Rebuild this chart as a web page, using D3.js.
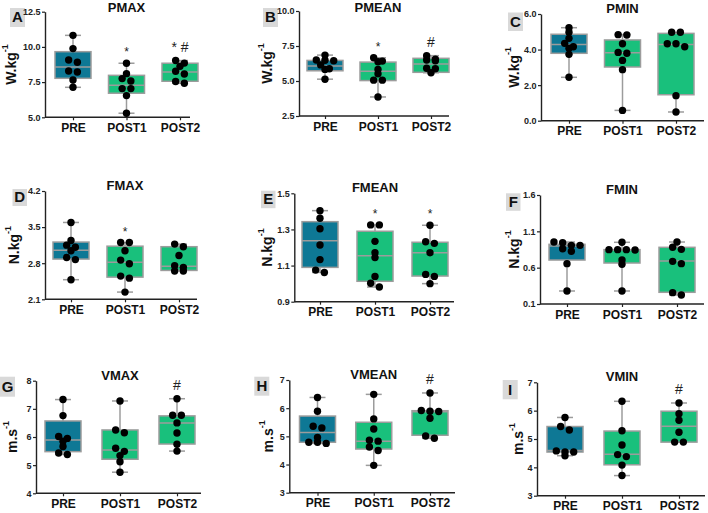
<!DOCTYPE html>
<html><head><meta charset="utf-8">
<script src="https://cdn.jsdelivr.net/npm/d3@7"></script>
<style>
body{margin:0;background:#fff}
svg{display:block}
text{font-family:"Liberation Sans",Arial,sans-serif}
</style>
</head><body>
<svg id="chart" width="708" height="513"></svg>
<script>
// ---------- data ----------
const categories = ["PRE", "POST1", "POST2"];
const panelLetters = ["A","B","C","D","E","F","G","H","I"];
const panelTitles = ["PMAX","PMEAN","PMIN","FMAX","FMEAN","FMIN","VMAX","VMEAN","VMIN"];
const unitMain = ["W.kg","W.kg","W.kg","N.kg","N.kg","N.kg","m.s","m.s","m.s"];
const unitSup = "-1";
const yDomains = [[5,12.5],[2.5,10],[0,6],[2.1,4.2],[0.9,1.5],[0.1,1.6],[4,8],[3,7],[3,7]];
const yTickValues = [[5,7.5,10,12.5],[2.5,5,7.5,10],[0,2,4,6],[2.1,2.8,3.5,4.2],[0.9,1.1,1.3,1.5],[0.1,0.6,1.1,1.6],[4,5,6,7,8],[3,4,5,6,7],[3,4,5,6,7]];
const yTickFormats = [".1f",".1f",".1f",".1f",".1f",".1f","d","d","d"];

// individual values per group [PRE, POST1, POST2]
const PMAX = [[10.82,9.88,9.07,8.91,8.29,8.22,7.65,7.13],[8.84,8.10,7.75,7.58,7.04,7.04,6.54,5.29],[9.03,8.85,8.62,8.27,8.08,7.54,7.42]];
const PMEAN = [[6.85,6.50,6.48,6.45,6.15,5.88,5.83,5.13],[6.66,6.42,6.37,5.82,5.51,5.06,5.06,3.86],[6.81,6.55,6.50,6.45,5.91,5.88,5.59]];
const PMIN = [[5.23,4.97,4.63,4.35,4.16,4.07,3.73,2.44],[4.84,4.82,4.33,3.84,3.79,3.39,2.87,0.58],[4.97,4.97,4.33,4.33,4.16,1.41,0.49]];
const FMAX = [[3.59,3.24,3.15,3.11,3.04,2.91,2.87,2.48],[3.20,3.20,3.04,2.86,2.79,2.55,2.51,2.24],[3.17,3.12,2.95,2.75,2.72,2.65,2.65]];
const FMEAN = [[1.404,1.362,1.304,1.214,1.133,1.075,1.062],[1.325,1.325,1.234,1.171,1.144,1.040,1.002,0.981],[1.323,1.232,1.223,1.171,1.051,1.040,1.000]];
const FMIN = [[0.953,0.944,0.907,0.907,0.861,0.825,0.655,0.279],[0.949,0.848,0.848,0.848,0.843,0.705,0.646,0.279],[0.953,0.880,0.852,0.687,0.655,0.256,0.224]];
const VMAX = [[7.33,6.76,6.02,5.95,5.85,5.66,5.43,5.38],[7.28,6.25,6.15,5.60,5.49,5.34,5.12,4.75],[7.36,6.77,6.77,6.50,6.14,5.74,5.50]];
const VMEAN = [[6.38,5.89,5.36,5.30,4.96,4.79,4.79,4.75],[6.49,5.62,5.26,4.86,4.83,4.62,4.50,3.97],[6.54,5.92,5.89,5.88,5.64,5.01,4.93]];
const VMIN = [[5.76,5.44,5.32,4.58,4.54,4.54,4.41],[6.33,5.29,4.79,4.45,4.38,4.08,3.71],[6.27,5.89,5.66,5.24,4.89,4.89]];

// box statistics [q1, median, q3] per group
const PMAX_box = [[7.77,8.58,9.66],[6.71,7.28,7.98],[7.56,8.22,8.84]];
const PMEAN_box = [[5.73,6.08,6.47],[5.03,5.70,6.35],[5.62,6.21,6.62]];
const PMIN_box = [[3.79,4.29,4.86],[3.02,3.82,4.54],[1.46,4.29,4.91]];
const FMAX_box = [[2.88,3.05,3.21],[2.53,2.82,3.13],[2.66,2.74,3.12]];
const FMEAN_box = [[1.090,1.238,1.343],[1.013,1.155,1.290],[1.042,1.171,1.229]];
const FMIN_box = [[0.705,0.898,0.921],[0.664,0.845,0.848],[0.261,0.692,0.880]];
const VMAX_box = [[5.48,5.89,6.57],[5.21,5.54,6.25],[5.75,6.50,6.75]];
const VMEAN_box = [[4.79,5.14,5.72],[4.55,4.83,5.50],[5.04,5.87,5.91]];
const VMIN_box = [[4.54,4.59,5.44],[4.09,4.46,5.28],[4.89,5.45,5.98]];

// significance marks per group
const PMAX_marks = ["","*","* #"];
const PMEAN_marks = ["","*","#"];
const PMIN_marks = ["","",""];
const FMAX_marks = ["","*",""];
const FMEAN_marks = ["","*","*"];
const FMIN_marks = ["","",""];
const VMAX_marks = ["","","#"];
const VMEAN_marks = ["","","#"];
const VMIN_marks = ["","","#"];

const panelValues = [PMAX,PMEAN,PMIN,FMAX,FMEAN,FMIN,VMAX,VMEAN,VMIN];
const panelBoxes = [PMAX_box,PMEAN_box,PMIN_box,FMAX_box,FMEAN_box,FMIN_box,VMAX_box,VMEAN_box,VMIN_box];
const panelMarks = [PMAX_marks,PMEAN_marks,PMIN_marks,FMAX_marks,FMEAN_marks,FMIN_marks,VMAX_marks,VMEAN_marks,VMIN_marks];

// ---------- layout ----------
const layout = [
  {ax:45,   top:11.7,  bot:117.3, c0:73,    c2:180,   end:190, lab:[10,8,15,19],        ylx:12},
  {ax:299,  top:11,    bot:116,   c0:325,   c2:431,   end:449, lab:[263,8,15,19],       ylx:268},
  {ax:541,  top:14,    bot:120.7, c0:569,   c2:676,   end:704, lab:[508,12.5,15,18.5],  ylx:515},
  {ax:45,   top:191,   bot:299.3, c0:71,    c2:179,   end:197, lab:[12.5,189,14.5,17],  ylx:15},
  {ax:294.3,top:193.3, bot:301.7, c0:320,   c2:430,   end:454, lab:[261,190.7,14.5,17.5], ylx:268},
  {ax:540,  top:195,   bot:304,   c0:567,   c2:677,   end:704, lab:[506,193.3,14.5,17.5], ylx:515},
  {ax:36,   top:380.7, bot:493.3, c0:63,    c2:177,   end:201, lab:[0,376.7,15,20],     ylx:13},
  {ax:289.3,top:380,   bot:492.7, c0:317.5, c2:430,   end:455, lab:[254.3,376.7,15,19], ylx:269},
  {ax:537,  top:382.3, bot:495.7, c0:565,   c2:679,   end:705, lab:[502.7,380,15,19.3], ylx:519}
];

const fills = ["#0e7895", "#19c07c", "#19c07c"];
const grey = "#9c9c9c";
const boxW = 36, capW = 16, dotR = 3.7, dotGap = 8.7, rowTol = 4;
const FONT = "'Liberation Sans',Arial,sans-serif";

const svg = d3.select("#chart");
svg.append("rect").attr("width",708).attr("height",513).attr("fill","#fff");

panelValues.forEach((vals, i) => {
  const L = layout[i];
  const y = d3.scaleLinear().domain(yDomains[i]).range([L.bot, L.top]);
  const x = d3.scalePoint().domain(categories).range([L.c0, L.c2]);
  const g = svg.append("g");

  // panel letter (drawn first so tick labels stay on top)
  g.append("rect").attr("x",L.lab[0]).attr("y",L.lab[1]).attr("width",L.lab[2]).attr("height",L.lab[3])
    .attr("fill","#d9d9d9");
  g.append("text").attr("x",L.lab[0]+L.lab[2]/2).attr("y",L.lab[1]+L.lab[3]/2+1)
    .attr("text-anchor","middle").attr("dominant-baseline","middle")
    .attr("font-size",15).attr("font-weight","bold").attr("fill","#111").text(panelLetters[i]);

  // y axis
  const yAx = g.append("g").attr("transform", `translate(${L.ax},0)`)
    .call(d3.axisLeft(y).tickValues(yTickValues[i]).tickFormat(d3.format(yTickFormats[i]))
      .tickSize(3).tickSizeOuter(0).tickPadding(1.5));
  yAx.select(".domain").attr("stroke","#222").attr("stroke-width",1.4);
  yAx.selectAll(".tick line").attr("stroke","#222").attr("stroke-width",1.2);
  yAx.selectAll(".tick text").attr("font-size",9).attr("font-weight","bold").attr("fill","#222")
    .attr("font-family",FONT);

  // x axis
  const xAx = g.append("g").attr("transform", `translate(0,${L.bot})`)
    .call(d3.axisBottom(x).tickSize(3).tickSizeOuter(0).tickPadding(3));
  xAx.select(".domain").remove();
  xAx.selectAll(".tick line").attr("stroke","#222").attr("stroke-width",1.2);
  xAx.selectAll(".tick text").attr("font-size",12).attr("font-weight","bold").attr("fill","#111")
    .attr("font-family",FONT);
  g.append("line").attr("x1",L.ax).attr("x2",L.end).attr("y1",L.bot).attr("y2",L.bot)
    .attr("stroke","#222").attr("stroke-width",1.4);

  // title
  g.append("text").attr("x",(L.c0+L.c2)/2).attr("y",Math.max(L.top-4.5, 8.5)).attr("text-anchor","middle")
    .attr("dominant-baseline","middle").attr("font-size",13).attr("font-weight","bold").attr("fill","#111")
    .text(panelTitles[i]);

  // y label
  const yl = g.append("text").attr("transform",`translate(${L.ylx},${(L.top+L.bot)/2}) rotate(-90)`)
    .attr("text-anchor","middle").attr("dominant-baseline","middle")
    .attr("font-size",14).attr("font-weight","bold").attr("fill","#111");
  yl.append("tspan").text(unitMain[i]);
  yl.append("tspan").attr("font-size",9).attr("dy",-6).text(unitSup);

  // groups
  vals.forEach((pts, k) => {
    const cx = x(categories[k]);
    const [q1, med, q3] = panelBoxes[i][k];
    const mn = d3.min(pts), mx = d3.max(pts);
    g.append("line").attr("x1",cx).attr("x2",cx).attr("y1",y(mx)).attr("y2",y(mn))
      .attr("stroke",grey).attr("stroke-width",1.5);
    [mn, mx].forEach(v => g.append("line").attr("x1",cx-capW/2).attr("x2",cx+capW/2)
      .attr("y1",y(v)).attr("y2",y(v)).attr("stroke",grey).attr("stroke-width",1.5));
    g.append("rect").attr("x",cx-boxW/2).attr("width",boxW).attr("y",y(q3)).attr("height",y(q1)-y(q3))
      .attr("fill",fills[k]).attr("stroke",grey).attr("stroke-width",1.5);
    g.append("line").attr("x1",cx-boxW/2).attr("x2",cx+boxW/2).attr("y1",y(med)).attr("y2",y(med))
      .attr("stroke",grey).attr("stroke-width",1.5);
    const sorted = pts.slice().sort((a,b)=>b-a);
    const rows = [];
    sorted.forEach(v => {
      const last = rows[rows.length-1];
      if (last && Math.abs(y(v) - y(last[0])) < rowTol) last.push(v); else rows.push([v]);
    });
    rows.forEach(row => row.forEach((v, j) => {
      g.append("circle").attr("cx", cx + (j - (row.length-1)/2) * dotGap).attr("cy", y(v))
        .attr("r", dotR).attr("fill","#000");
    }));
    const m = panelMarks[i][k];
    if (m) {
      const hasHash = m.includes("#");
      g.append("text").attr("x",cx).attr("y", y(mx) - (hasHash ? 9 : 7))
        .attr("text-anchor","middle").attr("font-size", hasHash ? 14 : 12).attr("fill","#222")
        .text(m);
    }
  });
});
</script>
</body></html>
